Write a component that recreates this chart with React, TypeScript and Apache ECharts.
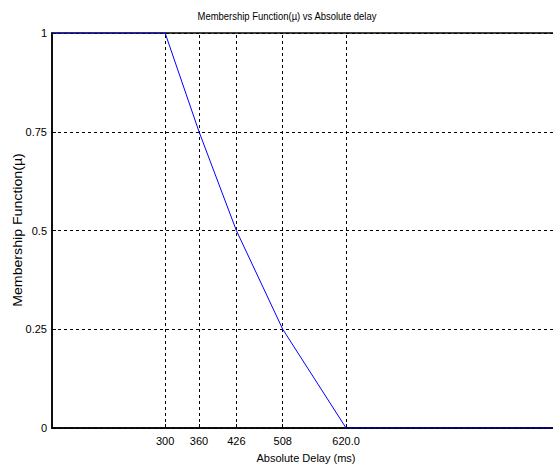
import React, { useEffect, useRef } from "react";
import * as echarts from "echarts";

const delays = [100, 300, 360, 426, 508, 620, 1000];
const membership = [1, 1, 0.75, 0.5, 0.25, 0, 0];
const xTicks = [300, 360, 426, 508, 620];
const xTickLabels = ["300", "360", "426", "508", "620.0"];
const titleText = "Membership Function(\u00b5) vs Absolute delay";
const xName = "Absolute Delay (ms)";
const yName = "Membership Function(\u00b5)";

const FONT = "'Liberation Sans', Arial, sans-serif";

export default function App() {
  const ref = useRef<HTMLDivElement>(null);
  useEffect(() => {
    if (!ref.current) return;
    const chart = echarts.init(ref.current, undefined, { renderer: "svg" });
    const data = delays.map((d, i) => [d, membership[i]]);
    chart.setOption({
      animation: false,
      backgroundColor: "#fff",
      grid: {
        left: 52,
        top: 33,
        bottom: 38,
        right: 1,
        show: true,
        borderColor: "#000",
        borderWidth: 1.5,
      },
      xAxis: {
        type: "value",
        min: 100,
        max: 1000,
        axisLine: { show: true, lineStyle: { color: "#000", width: 1.5 } },
        axisTick: { show: true, inside: true, length: 4, customValues: xTicks, lineStyle: { color: "#000" } },
        axisLabel: {
          customValues: xTicks,
          formatter: (v: number) => {
            const i = xTicks.indexOf(v);
            return i >= 0 ? xTickLabels[i] : "";
          },
          color: "#000",
          fontFamily: FONT,
          fontSize: 11,
          margin: 7,
        },
        splitLine: { show: false },
      },
      yAxis: {
        type: "value",
        min: 0,
        max: 1,
        interval: 0.25,
        axisLine: { show: true, lineStyle: { color: "#000", width: 1.5 } },
        axisTick: { show: true, inside: true, length: 4, lineStyle: { color: "#000" } },
        axisLabel: {
          color: "#000",
          fontFamily: FONT,
          fontSize: 11,
          margin: 5,
          formatter: (v: number) => String(v),
        },
        splitLine: { show: true, lineStyle: { color: "#000", type: [3, 3], width: 1 } },
      },
      graphic: [
        {
          type: "text",
          x: 287,
          y: 16,
          scaleX: 0.86,
          style: { text: titleText, fontFamily: FONT, fontSize: 11, fill: "#000", textAlign: "center", textVerticalAlign: "middle" },
        },
        {
          type: "text",
          x: 306,
          y: 458,
          style: { text: xName, fontFamily: FONT, fontSize: 11, fill: "#000", textAlign: "center", textVerticalAlign: "middle" },
        },
        {
          type: "text",
          x: 18,
          y: 230,
          rotation: Math.PI / 2,
          scaleX: 1.18,
          style: { text: yName, fontFamily: FONT, fontSize: 12, fill: "#000", textAlign: "center", textVerticalAlign: "middle" },
        },
      ],
      series: [
        {
          type: "line",
          data,
          symbol: "none",
          lineStyle: { color: "#0000ff", width: 1 },
          z: 5,
          markLine: {
            silent: true,
            symbol: "none",
            label: { show: false },
            lineStyle: { color: "#000", type: [3, 3], width: 1 },
            data: xTicks.map((v) => ({ xAxis: v })),
            z: 3,
          },
        },
      ],
    });
    return () => chart.dispose();
  }, []);
  return (
    <div style={{ position: "absolute", left: 0, top: 0, width: 553, height: 466, overflow: "hidden" }}>
      <div ref={ref} style={{ width: 562, height: 466 }} />
    </div>
  );
}
